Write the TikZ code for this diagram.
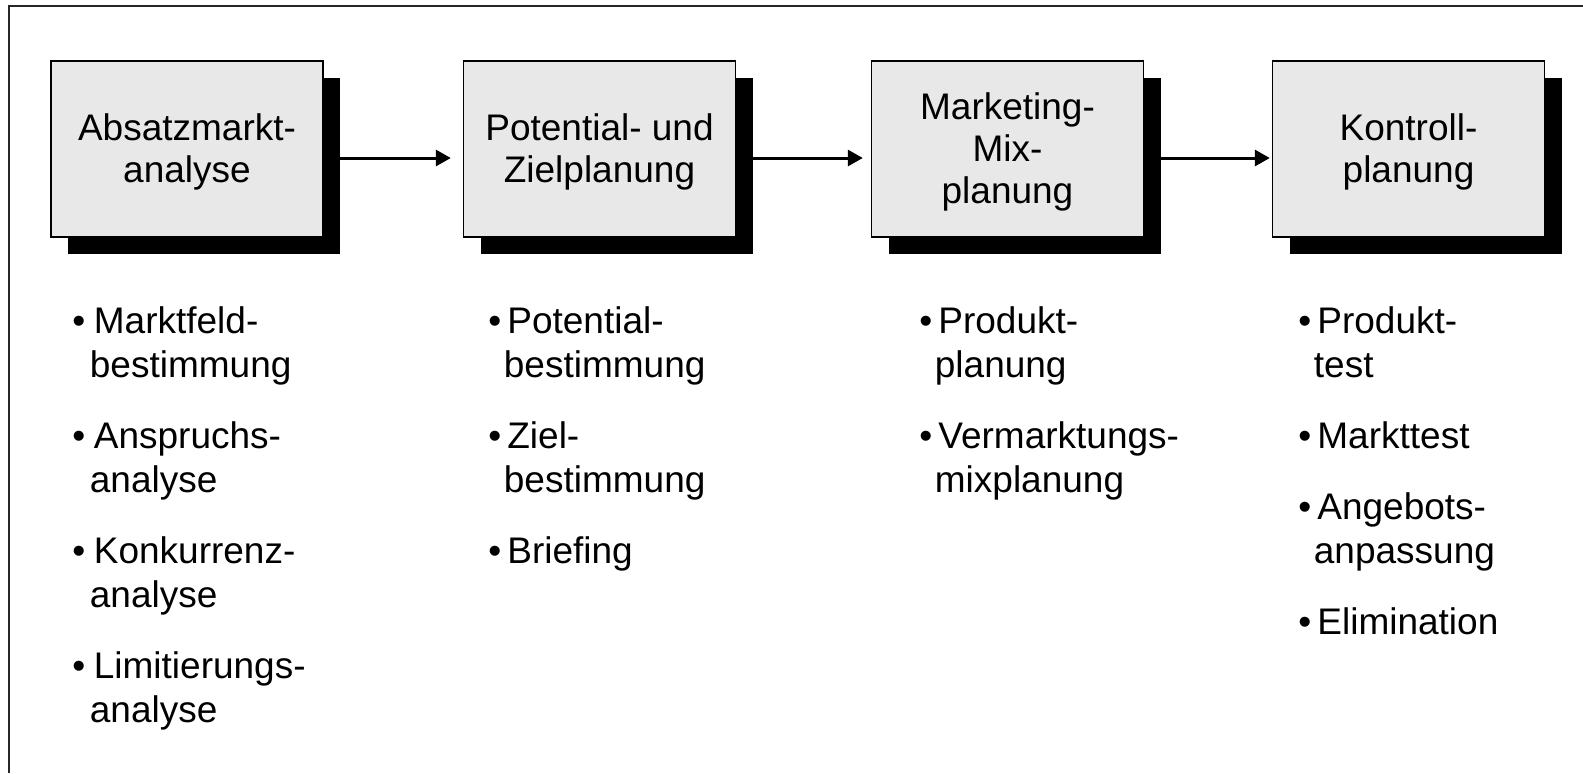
\documentclass[tikz,border=0pt]{standalone}
\usepackage{fontspec}
\setmainfont{Liberation Sans}
\usetikzlibrary{arrows.meta,shadows}
\definecolor{boxfill}{RGB}{232,232,232}
\newcommand\pstr{\rule[-0.212em]{0pt}{1.117em}}
\newcommand\bul{\makebox[9.5pt][l]{•}}
\newcommand\ind{\hspace*{7.75pt}}
\newcommand\bulA{\makebox[10.75pt][l]{•}}
\newcommand\indA{\hspace*{8.75pt}}
\tikzset{
  stepbox/.style={draw=black, line width=0.7pt, fill=boxfill,
    minimum width=136pt, minimum height=88pt, inner sep=0pt, align=center,
    font=\fontsize{18.5pt}{21pt}\selectfont,
    drop shadow={fill=black, opacity=1, shadow xshift=8.5pt, shadow yshift=-8.5pt}},
  listtext/.style={anchor=north west, inner sep=0pt, align=left,
    font=\fontsize{18.5pt}{22pt}\selectfont},
  conn/.style={line width=1.5pt, -{Triangle[length=7.5pt,width=8pt]}},
  frame/.style={line width=1pt, draw=black!85}
}
\begin{document}
\begin{tikzpicture}[x=0.5pt, y=-0.5pt]
\useasboundingbox[fill=white] (0,0) rectangle (1583,773);
\draw[frame] (9,773) -- (9,6) -- (1583,6);

\node[stepbox] (b1) at (187,149) {\pstr Absatzmarkt-\\\pstr analyse};
\node[stepbox] (b2) at (599.5,149) {\pstr Potential- und\\\pstr Zielplanung};
\node[stepbox] (b3) at (1007.5,149) {\pstr Marketing-\\\pstr Mix-\\\pstr planung};
\node[stepbox] (b4) at (1408.5,149) {\pstr Kontroll-\\\pstr planung};

\draw[conn, shorten >=6pt] ([yshift=-4.5pt]b1.east) -- ([yshift=-4.5pt]b2.west);
\draw[conn, shorten >=4pt] ([yshift=-4.5pt]b2.east) -- ([yshift=-4.5pt]b3.west);
\draw[conn, shorten >=1pt] ([yshift=-4.5pt]b3.east) -- ([yshift=-4.5pt]b4.west);

\node[listtext] (l1) at (72,299.5) {\pstr\bulA Marktfeld-\\\indA bestimmung\\[13.5pt]\bulA Anspruchs-\\\indA analyse\\[13.5pt]\bulA Konkurrenz-\\\indA analyse\\[13.5pt]\bulA Limitierungs-\\\indA analyse};
\node[listtext] (l2) at (488,299.5) {\pstr\bul Potential-\\\ind bestimmung\\[13.5pt]\bul Ziel-\\\ind bestimmung\\[13.5pt]\bul Briefing};
\node[listtext] (l3) at (919,299.5) {\pstr\bul Produkt-\\\ind planung\\[13.5pt]\bul Vermarktungs-\\\ind mixplanung};
\node[listtext] (l4) at (1298,299.5) {\pstr\bul Produkt-\\\ind test\\[13.5pt]\bul Markttest\\[13.5pt]\bul Angebots-\\\ind anpassung\\[13.5pt]\bul Elimination};
\end{tikzpicture}
\end{document}
